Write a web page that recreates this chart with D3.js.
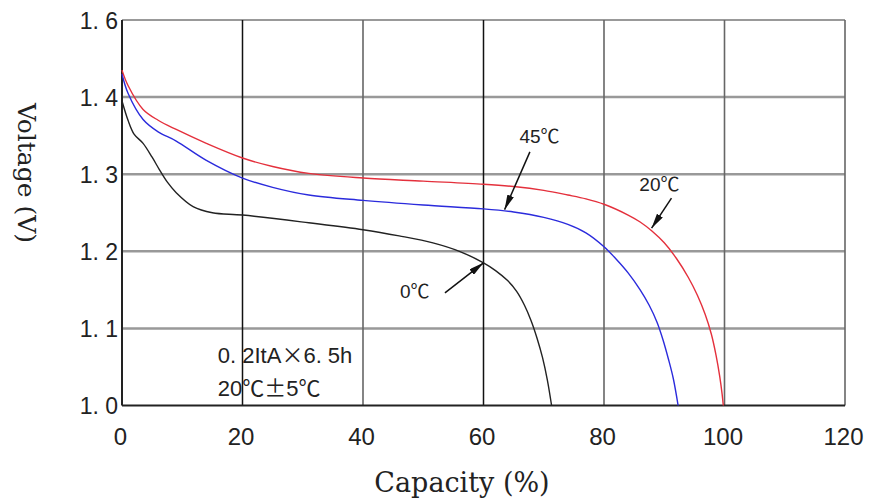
<!DOCTYPE html>
<html>
<head>
<meta charset="utf-8">
<script src="https://cdn.jsdelivr.net/npm/d3@7"></script>
<style>
  body { margin: 0; background: #fff; }
  svg { display: block; }
</style>
</head>
<body>
<div id="chart"></div>
<script>
"use strict"

//------------------------DATA------------------------//
const xTicks = [0, 20, 40, 60, 80, 100, 120];
const yTicks = [1.0, 1.1, 1.2, 1.3, 1.4, 1.5];
const yTickLabels = ["1. 0", "1. 1", "1. 2", "1. 3", "1. 4", "1. 6"];

// [capacity %, voltage]
const curve20 = [[0,1.435],[1,1.415],[3.5,1.384],[6,1.37],[9,1.358],[14,1.34],[20,1.321],[25,1.31],[31,1.301],[40,1.295],[50,1.291],[60,1.287],[65,1.284],[70,1.279],[74,1.273],[77,1.268],[80,1.261],[84,1.247],[86,1.238],[88,1.226],[90,1.211],[92,1.191],[94,1.166],[95.5,1.143],[96.8,1.118],[97.8,1.093],[98.6,1.065],[99.2,1.038],[99.6,1.015],[99.8,1.0]];
const curve45 = [[0,1.43],[1,1.405],[3.5,1.371],[6,1.355],[9,1.343],[14,1.318],[20,1.295],[25,1.283],[31,1.273],[40,1.266],[50,1.26],[60,1.255],[65,1.251],[70,1.244],[74,1.235],[77,1.224],[80,1.206],[82,1.19],[84,1.172],[86,1.15],[87.5,1.13],[88.8,1.108],[89.8,1.085],[90.7,1.06],[91.5,1.035],[92.3,1.0]];
const curve0 = [[0,1.395],[1,1.37],[2,1.352],[3.5,1.34],[5,1.322],[6.2,1.306],[7.5,1.29],[9,1.276],[11.8,1.258],[15,1.25],[20,1.247],[31,1.237],[40,1.228],[46,1.22],[51.6,1.211],[56,1.2],[60,1.185],[62,1.175],[64,1.162],[65.5,1.148],[66.8,1.13],[67.9,1.11],[68.9,1.087],[69.8,1.062],[70.6,1.033],[71.3,1.0]];

// label, text anchor point, arrow start, arrow tip (data units)
const callouts = [
    {label: "45℃", text: [69.3, 1.341], from: [67.7, 1.329], to: [63.5, 1.254]},
    {label: "20℃", text: [89.2, 1.278], from: [91.2, 1.269], to: [87.9, 1.230]},
    {label: "0℃",  text: [48.6, 1.140], from: [53.6, 1.146], to: [60.0, 1.185]}
];
const noteLines = ["0. 2ItA×6. 5h", "20℃±5℃"];

//------------------------SETUP------------------------//
const width = 873, height = 501;
const plotLeft = 122, plotRight = 845, plotTop = 20, plotBottom = 405.5;

const svg = d3.select("#chart").append("svg")
    .attr("width", width)
    .attr("height", height);

const x = d3.scaleLinear().domain([0, 120]).range([plotLeft, plotRight]);
const y = d3.scaleLinear().domain([1.0, 1.5]).range([plotBottom, plotTop]);

const sans = "'Liberation Sans', Arial, sans-serif";
const cjk = "'Noto Sans CJK SC', sans-serif";
const serif = "'DejaVu Serif', serif";

// full-width symbols come from the CJK font, like in the original
const richText = (sel, str) => {
    const parts = str.match(/[℃×±]|[^℃×±]+/g);
    sel.selectAll("tspan")
        .data(parts)
        .join("tspan")
        .style("font-family", d => /[℃×±]/.test(d) ? cjk : sans)
        .text(d => d);
};

//------------------------GRID------------------------//
// horizontal lines (gray, thick)
svg.append("g").selectAll("line")
    .data(yTicks.slice(1))
    .join("line")
    .attr("x1", plotLeft).attr("x2", plotRight)
    .attr("y1", d => y(d)).attr("y2", d => y(d))
    .attr("stroke", d => d === 1.5 ? "#777" : "#999")
    .attr("stroke-width", d => d === 1.5 ? 1.5 : 2.5);

// vertical lines: 20 and 60 black, others dark gray
svg.append("g").selectAll("line")
    .data(xTicks.slice(1))
    .join("line")
    .attr("x1", d => x(d)).attr("x2", d => x(d))
    .attr("y1", plotTop).attr("y2", plotBottom)
    .attr("stroke", d => (d === 20 || d === 60) ? "#111" : "#666")
    .attr("stroke-width", d => (d === 20 || d === 60) ? 1.5 : 1.6);

// left + bottom frame
svg.append("line")
    .attr("x1", plotLeft).attr("x2", plotLeft).attr("y1", plotTop).attr("y2", plotBottom)
    .attr("stroke", "#222").attr("stroke-width", 2);
svg.append("line")
    .attr("x1", plotLeft).attr("x2", plotRight).attr("y1", plotBottom).attr("y2", plotBottom)
    .attr("stroke", "#222").attr("stroke-width", 2);

//------------------------AXES------------------------//
const xaxis = d3.axisBottom(x).tickValues(xTicks).tickSize(0).tickPadding(0);
const yaxis = d3.axisLeft(y).tickValues(yTicks).tickSize(0).tickPadding(0)
    .tickFormat((d, i) => yTickLabels[i]);

const xa = svg.append("g")
    .attr("transform", `translate(0,${plotBottom})`)
    .call(xaxis);
xa.select(".domain").remove();
xa.selectAll("text")
    .attr("y", 39)
    .attr("dy", 0)
    .attr("dx", -2)
    .style("font-family", sans)
    .style("font-size", "24px")
    .attr("fill", "#222");

const ya = svg.append("g")
    .attr("transform", `translate(${plotLeft - 4},0)`)
    .call(yaxis);
ya.select(".domain").remove();
ya.selectAll("text")
    .attr("dy", "0.36em")
    .style("font-family", sans)
    .style("font-size", "23px")
    .attr("fill", "#222");

svg.append("text")
    .attr("x", 462).attr("y", 492)
    .attr("text-anchor", "middle")
    .style("font-family", serif)
    .style("font-size", "27px")
    .attr("fill", "#222")
    .text("Capacity (%)");

svg.append("text")
    .attr("transform", `translate(18,173) rotate(90)`)
    .attr("text-anchor", "middle")
    .style("font-family", serif)
    .style("font-size", "25px")
    .attr("fill", "#222")
    .text("Voltage (V)");

//------------------------CURVES------------------------//
const line = d3.line()
    .x(d => x(d[0]))
    .y(d => y(d[1]))
    .curve(d3.curveCatmullRom.alpha(0.5));

const series = [
    {data: curve0, color: "#222"},
    {data: curve45, color: "#2b2bdc"},
    {data: curve20, color: "#e4303c"}
];
svg.append("g").selectAll("path")
    .data(series)
    .join("path")
    .attr("d", d => line(d.data))
    .attr("fill", "none")
    .attr("stroke", d => d.color)
    .attr("stroke-width", 1.4);

//------------------------CALLOUTS------------------------//
svg.append("defs").append("marker")
    .attr("id", "arrow")
    .attr("viewBox", "0 0 15 7")
    .attr("refX", 15).attr("refY", 3.5)
    .attr("markerWidth", 15).attr("markerHeight", 7)
    .attr("markerUnits", "userSpaceOnUse")
    .attr("orient", "auto")
    .append("path")
    .attr("d", "M0,0 L15,3.5 L0,7 Z")
    .attr("fill", "#111");

const co = svg.append("g").selectAll("g")
    .data(callouts)
    .join("g");
co.append("line")
    .attr("x1", d => x(d.from[0])).attr("y1", d => y(d.from[1]))
    .attr("x2", d => x(d.to[0])).attr("y2", d => y(d.to[1]))
    .attr("stroke", "#111")
    .attr("stroke-width", 1.5)
    .attr("marker-end", "url(#arrow)");
co.append("text")
    .attr("x", d => x(d.text[0])).attr("y", d => y(d.text[1]))
    .attr("text-anchor", "middle")
    .style("font-size", "19px")
    .attr("fill", "#222")
    .each(function(d) { richText(d3.select(this), d.label); });

// test condition note
svg.append("g").selectAll("text")
    .data(noteLines)
    .join("text")
    .attr("x", x(15.9))
    .attr("y", (d, i) => y(1.055) + i * 33)
    .style("font-size", "22px")
    .attr("fill", "#222")
    .each(function(d) { richText(d3.select(this), d); });
</script>
</body>
</html>
